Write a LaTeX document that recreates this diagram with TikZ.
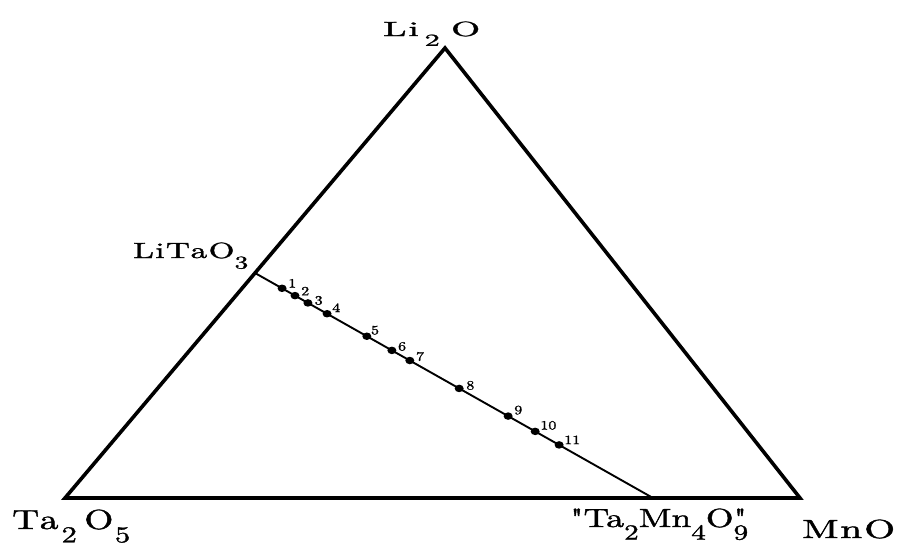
\documentclass[tikz,border=0pt]{standalone}
\usetikzlibrary{calc,shapes.geometric}
\usepackage{graphicx}
\usepackage{fontspec}
\newfontfamily\heavy{lmroman10-regular.otf}[FakeBold=1.2]
\newcommand\sbs[1]{\raisebox{-0.48em}{\scalebox{0.82}{#1}}}
\newcommand\lbl[3]{\resizebox{#1pt}{#2pt}{\heavy #3}}
\begin{document}
\begin{tikzpicture}[x=1pt,y=-1pt,
  tri/.style={line width=3.6pt},
  tie/.style={line width=1.9pt},
  dotn/.style={ellipse, fill=black, inner sep=0pt, minimum width=9pt, minimum height=7.5pt},
  num/.style={font=\fontsize{12.8}{12.8}\heavy, inner sep=0pt, anchor=west},
  chemlbl/.style={inner sep=0pt, anchor=base west}]
\useasboundingbox (0,0) rectangle (897,546);
\fill[white] (0,0) rectangle (897,546);
% vertices
\coordinate (li) at (445,48);
\coordinate (ta) at (65,498);
\coordinate (mn) at (800,498);
\coordinate (lt) at ($(ta)!0.5!(li)$);
\coordinate (tm) at ($(ta)!0.8!(mn)$);
\draw[tri] (ta) -- (li) -- (mn) -- cycle;
\draw[tie] (lt) -- (tm);
% points
\foreach \i/\t/\dx/\dy in {1/0.068/6/-5, 2/0.1005/6/-4.5, 3/0.133/6.5/-2.5, 4/0.181/5/-6, 5/0.281/4/-6,
  6/0.344/6/-4, 7/0.389/6/-4, 8/0.513/7/-3, 9/0.636/6/-6, 10/0.704/5/-6, 11/0.764/5/-5} {
  \node[dotn] (d\i) at ($(lt)!\t!(tm)$) {};
  \node[num] (n\i) at ([shift={(\dx,\dy)}]d\i.center) {\scalebox{1.25}[1]{\i}};
}
% labels
\node[chemlbl] (Li2O) at (383,36) {\lbl{97}{14.5}{L\hspace{.05em}i\hspace{.15em}\sbs{2}\hspace{.3em}O}};
\node[chemlbl] (LiTaO3) at (133,258) {\lbl{115}{15.5}{L\hspace{.04em}i\hspace{.04em}T\hspace{.02em}a\hspace{.04em}O\sbs{3}}};
\node[chemlbl] (Ta2O5) at (12,529) {\lbl{118}{19.5}{T\hspace{.02em}a\hspace{.08em}\sbs{2}\hspace{.2em}O\hspace{.04em}\sbs{5}}};
\node[chemlbl] (Ta2Mn4O9) at (570,527) {\lbl{178}{18.5}{"Ta\sbs{2}Mn\sbs{4}O\makebox[0pt][l]{"}\sbs{9}}};
\node[chemlbl] (MnO) at (802,538) {\lbl{93}{18.5}{M\hspace{.04em}n\hspace{.05em}O}};
\end{tikzpicture}
\end{document}
